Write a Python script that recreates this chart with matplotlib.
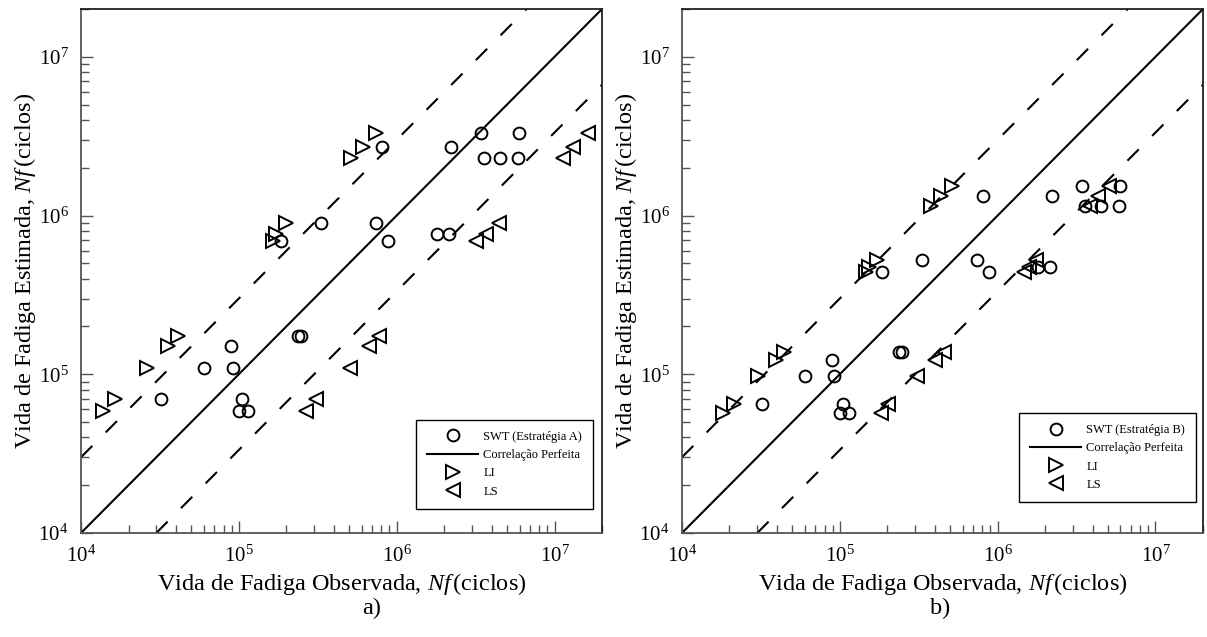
import matplotlib
matplotlib.use("Agg")
import matplotlib.pyplot as plt
from matplotlib.ticker import LogLocator, NullFormatter

plt.rcParams['font.family'] = ['Liberation Serif', 'DejaVu Serif']
plt.rcParams['mathtext.fontset'] = 'custom'
plt.rcParams['mathtext.rm'] = 'Liberation Serif'
plt.rcParams['mathtext.it'] = 'Liberation Serif:italic'

# observed fatigue life (same specimens in both panels)
observed = [1.0e5, 1.15e5, 3.2e4, 1.05e5, 6.05e4, 9.2e4, 8.9e4, 2.36e5, 2.46e5,
            1.86e5, 8.8e5, 1.8e6, 2.16e6, 3.32e5, 7.4e5, 3.56e6, 4.5e6, 5.9e6,
            8.1e5, 2.2e6, 3.42e6, 5.98e6]

# panel a) - SWT Estrategia A
est_a = [5.9e4, 5.9e4, 7.0e4, 7.0e4, 1.1e5, 1.1e5, 1.5e5, 1.74e5, 1.74e5,
         6.9e5, 6.9e5, 7.6e5, 7.6e5, 9.0e5, 9.0e5, 2.3e6, 2.3e6, 2.3e6,
         2.7e6, 2.7e6, 3.3e6, 3.3e6]
levels_a = [5.9e4, 7.0e4, 1.1e5, 1.5e5, 1.74e5, 6.9e5, 7.6e5, 9.0e5, 2.3e6, 2.7e6, 3.3e6]
li_a = [1.37e4, 1.64e4, 2.63e4, 3.57e4, 4.1e4, 1.65e5, 1.71e5, 1.98e5, 5.1e5, 6.08e5, 7.4e5]
ls_a = [2.66e5, 3.1e5, 5.06e5, 6.7e5, 7.7e5, 3.2e6, 3.68e6, 4.47e6, 1.13e7, 1.31e7, 1.63e7]

# panel b) - SWT Estrategia B
est_b = [5.7e4, 5.7e4, 6.5e4, 6.5e4, 9.7e4, 9.7e4, 1.23e5, 1.39e5, 1.39e5,
         4.43e5, 4.43e5, 4.76e5, 4.76e5, 5.25e5, 5.25e5, 1.15e6, 1.15e6, 1.15e6,
         1.33e6, 1.33e6, 1.54e6, 1.54e6]
levels_b = [5.7e4, 6.5e4, 9.7e4, 1.23e5, 1.39e5, 4.43e5, 4.76e5, 5.25e5, 1.15e6, 1.33e6, 1.54e6]
li_b = [1.83e4, 2.14e4, 3.05e4, 3.92e4, 4.4e4, 1.47e5, 1.52e5, 1.71e5, 3.78e5, 4.37e5, 5.13e5]
ls_b = [1.82e5, 2.01e5, 3.1e5, 4.02e5, 4.56e5, 1.47e6, 1.57e6, 1.76e6, 3.85e6, 4.33e6, 5.04e6]

lim = [1e4, 2e7]
band = 3.0  # factor 3 scatter band

fig = plt.figure(figsize=(12.07, 6.37), dpi=100)
ax_a = fig.add_axes([0.0671, 0.1633, 0.4317, 0.8226])
ax_b = fig.add_axes([0.5650, 0.1633, 0.4317, 0.8226])

panels = [
    (ax_a, est_a, levels_a, li_a, ls_a, 'SWT (Estratégia A)', (0.983, 0.046), 0.308, 'a)'),
    (ax_b, est_b, levels_b, li_b, ls_b, 'SWT (Estratégia B)', (0.987, 0.059), 0.779, 'b)'),
]

nf = r'$\mathit{Nf}\,$'
for ax, est, levels, li, ls, name, leg_pos, cap_x, cap in panels:
    ax.plot(observed, est, 'o', ms=8.5, mfc='none', mec='black', mew=1.4, label=name)
    ax.plot(lim, lim, '-', color='black', lw=1.5, label='Correlação Perfeita')
    ax.plot([lim[0], lim[1] / band], [lim[0] * band, lim[1]], color='black', lw=1.5,
            linestyle=(0, (7.7, 9.1)))
    ax.plot([lim[0] * band, lim[1]], [lim[0], lim[1] / band], color='black', lw=1.5,
            linestyle=(0, (7.7, 9.1)))
    ax.plot(li, levels, '>', ms=10, mfc='none', mec='black', mew=1.4, label='LI')
    ax.plot(ls, levels, '<', ms=10, mfc='none', mec='black', mew=1.4, label='LS')

    ax.set_xscale('log')
    ax.set_yscale('log')
    ax.set_xlim(lim)
    ax.set_ylim(lim)
    for axis in (ax.xaxis, ax.yaxis):
        axis.set_major_locator(LogLocator(base=10))
        axis.set_minor_locator(LogLocator(base=10, subs=range(2, 10)))
        axis.set_minor_formatter(NullFormatter())
    ax.tick_params(which='both', direction='in', top=False, right=False,
                   color='#555555', width=1.0, labelsize=15)
    ax.tick_params(which='major', length=8.5)
    ax.tick_params(which='minor', length=5.5)
    ax.tick_params(axis='y', which='major', pad=9)
    ax.tick_params(axis='x', which='major', pad=9)
    for side in ('left', 'bottom'):
        ax.spines[side].set_color('#555555')
        ax.spines[side].set_linewidth(1.3)
    for side in ('top', 'right'):
        ax.spines[side].set_color('#222222')
        ax.spines[side].set_linewidth(1.3)

    ax.set_xlabel('Vida de Fadiga Observada, ' + nf + '(ciclos)', fontsize=17.5, labelpad=3)
    ax.set_ylabel('Vida de Fadiga Estimada, ' + nf + '(ciclos)', fontsize=17.5, labelpad=0)

    leg = ax.legend(loc='lower right', bbox_to_anchor=leg_pos, borderaxespad=0,
                    fontsize=9, handlelength=4.1, handletextpad=0.4, borderpad=0.9,
                    labelspacing=0.5, fancybox=False, framealpha=1, edgecolor='black')
    leg.get_frame().set_linewidth(1.0)

    fig.text(cap_x, 0.0455, cap, ha='center', va='center', fontsize=17.5)

fig.savefig('out.png', dpi=100)
